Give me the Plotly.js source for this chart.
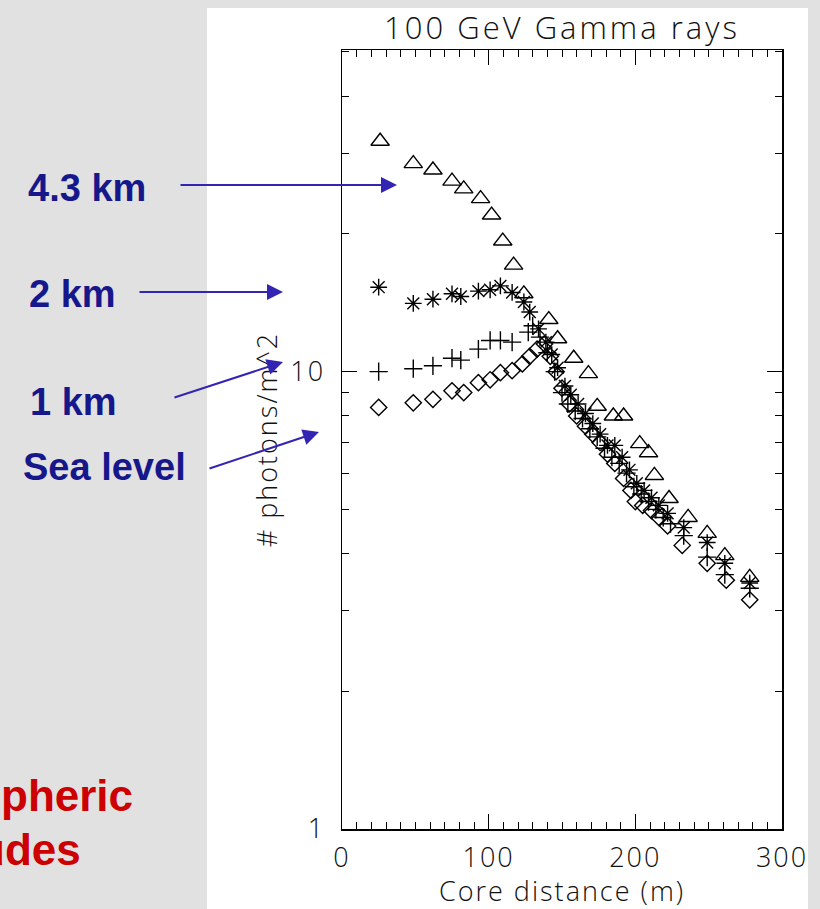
<!DOCTYPE html>
<html>
<head>
<meta charset="utf-8">
<script src="https://cdn.plot.ly/plotly-3.0.1.min.js"></script>
<style>
  html, body { margin: 0; padding: 0; background: #e1e1e1; }
  #chart { width: 820px; height: 909px; }
  .xtitle, .ytitle, .xtick text, .ytick text { letter-spacing: 2px; }
  .gtitle { letter-spacing: 3px; }
</style>
</head>
<body>
<div id="chart"></div>
<script>
// ---- data (core distance in m, photons per m^2) ----
const seriesNames = ["4.3 km", "2 km", "1 km", "Sea level"];

const triDist = [26, 48.6, 62, 75, 83, 94.5, 102, 109.6, 117, 124, 141, 147, 158, 168, 174, 185, 192, 203, 209, 213, 223, 236, 249, 261, 278];
const triVal  = [31.9, 28.5, 27.6, 26.1, 25.1, 23.9, 22.0, 19.3, 17.1, 14.8, 13.0, 11.8, 10.7, 9.9, 8.4, 8.0, 8.0, 6.96, 6.65, 5.93, 5.28, 4.8, 4.43, 3.96, 3.55];

const astDist = [25, 48.6, 62, 75, 81, 93, 101, 108, 116, 124, 128, 134, 139, 143, 147, 152, 156, 161, 166, 171, 176, 181, 186, 191, 196, 201, 206, 211, 216, 222, 233, 249, 261, 278];
const astVal  = [15.3, 14.1, 14.4, 14.8, 14.6, 15.0, 15.1, 15.4, 14.9, 14.2, 13.5, 12.4, 11.6, 10.9, 10.2, 9.3, 8.9, 8.5, 8.1, 7.7, 7.3, 6.9, 6.9, 6.5, 6.1, 5.7, 5.5, 5.3, 5.1, 4.9, 4.56, 4.23, 3.81, 3.45];

const plusDist = [25, 48.6, 62, 75, 81, 93, 101, 108, 116, 127, 130, 135, 140, 145, 150, 154, 159, 164, 169, 174, 179, 184, 189, 194, 199, 204, 209, 214, 219, 224, 233, 249, 261, 278];
const plusVal  = [10.0, 10.15, 10.3, 10.7, 10.6, 11.2, 11.7, 11.7, 11.6, 12.2, 12.6, 11.9, 11.0, 10.0, 9.0, 8.5, 8.2, 7.9, 7.5, 7.2, 6.8, 6.5, 6.3, 6.0, 5.6, 5.4, 5.2, 5.0, 4.8, 4.65, 4.38, 3.93, 3.6, 3.36];

const diaDist = [25, 48.6, 62, 75, 83, 93, 101, 108, 116, 123, 128, 133, 138, 142, 146, 150, 155, 160, 166, 171, 176, 181, 186, 192, 197, 200, 205, 211, 216, 222, 232, 249, 262, 278];
const diaVal  = [8.35, 8.55, 8.7, 9.08, 9.0, 9.46, 9.6, 9.95, 10.05, 10.4, 10.8, 11.2, 11.5, 10.8, 10.0, 9.2, 8.5, 8.0, 7.6, 7.3, 7.0, 6.6, 6.3, 5.84, 5.5, 5.2, 5.1, 4.97, 4.8, 4.6, 4.17, 3.81, 3.5, 3.17];

const xTickVals = [0, 100, 200, 300];
const yTickVals = [1, 10];
const yTickText = ["1", "10"];
const yMinorVals = [2, 3, 4, 5, 6, 7, 8, 9, 20, 30, 40, 50];

// ---- layout helpers (pixel -> paper coordinates of the plot area) ----
const L = 342, R = 782, T = 50, B = 829;
const px = x => (x - L) / (R - L);
const py = y => (B - y) / (B - T);

function mk(x, y, name, symbol, size) {
  return {
    type: "scatter", mode: "markers", x: x, y: y, name: name,
    marker: { symbol: symbol, size: size, color: "#000",
              line: { color: "#000", width: 1.4 } },
    hoverinfo: "x+y+name"
  };
}

const traces = [
  mk(triDist, triVal, seriesNames[0], "triangle-up-open", 16),
  mk(astDist, astVal, seriesNames[1], "asterisk-open", 14),
  mk(plusDist, plusVal, seriesNames[2], "cross-thin-open", 13),
  mk(diaDist, diaVal, seriesNames[3], "diamond-open", 12.5)
];

const tickFont = { family: "Open Sans", size: 27, color: "#111", weight: 300 };
const navy = "#17178c";
const arrowCol = "#3424b4";
const labelFont = { family: "Liberation Sans, Arial", size: 38, color: navy, weight: "bold" };
const redFont = { family: "Liberation Sans, Arial", size: 44, color: "#cc0000", weight: "bold" };

function label(text, xLeft, yMid) {
  return { text: text, xref: "paper", yref: "paper", x: px(xLeft), y: py(yMid),
           xanchor: "left", yanchor: "middle", showarrow: false, font: labelFont };
}
function redLabel(text, xRight, yMid) {
  return { text: text, xref: "paper", yref: "paper", x: px(xRight), y: py(yMid),
           xanchor: "right", yanchor: "middle", showarrow: false, font: redFont };
}
function arrow(hx, hy, tx, ty) {
  return { text: "", xref: "paper", yref: "paper", x: px(hx), y: py(hy),
           ax: tx - hx, ay: ty - hy, showarrow: true, arrowhead: 2, arrowsize: 1.6,
           arrowwidth: 2, arrowcolor: arrowCol, standoff: 0, startstandoff: 0 };
}

const layout = {
  width: 820, height: 909, autosize: false,
  margin: { l: L, r: 820 - R, t: T, b: 909 - B, pad: 0 },
  paper_bgcolor: "#e1e1e1",
  plot_bgcolor: "#ffffff",
  showlegend: false,
  title: { text: "100 GeV Gamma rays", xref: "paper", x: 0.5, xanchor: "center",
           yref: "container", y: 1 - 28 / 909, yanchor: "middle",
           font: { family: "Open Sans", size: 31, color: "#111", weight: 300 } },
  xaxis: {
    range: [0, 300], tickmode: "array", tickvals: xTickVals,
    ticks: "inside", ticklen: 15, tickwidth: 1, tickcolor: "#000",
    showline: true, linecolor: "#000", linewidth: 1.5, mirror: "ticks",
    showgrid: false, zeroline: false, ticklabelstandoff: 4,
    minor: { ticks: "inside", ticklen: 7, tickwidth: 1, tickcolor: "#000", dtick: 10, tick0: 0, showgrid: false },
    tickfont: tickFont,
    title: { text: "Core distance (m)", standoff: 0, font: tickFont }
  },
  yaxis: {
    type: "log", range: [0, Math.log10(50.5)], tickmode: "array",
    tickvals: yTickVals, ticktext: yTickText,
    ticks: "inside", ticklen: 15, tickwidth: 1, tickcolor: "#000",
    showline: true, linecolor: "#000", linewidth: 1.5, mirror: "ticks",
    showgrid: false, zeroline: false, ticklabelstandoff: 10,
    minor: { ticks: "inside", ticklen: 7, tickwidth: 1, tickcolor: "#000", tickmode: "array", tickvals: yMinorVals, showgrid: false },
    tickfont: tickFont,
    title: { text: "# photons/m^2", standoff: 5, font: tickFont }
  },
  shapes: [
    { type: "rect", xref: "paper", yref: "paper", layer: "below",
      x0: px(207), x1: px(808), y0: py(915), y1: py(8),
      fillcolor: "#ffffff", line: { width: 0 } }
  ],
  annotations: [
    label(seriesNames[0], 26, 188),
    label(seriesNames[1], 27, 294),
    label(seriesNames[2], 28, 402),
    label(seriesNames[3], 21, 467),
    arrow(397, 185, 179, 185),
    arrow(283, 292, 138, 292),
    arrow(283, 362, 173, 398),
    arrow(319, 432, 208, 469),
    redLabel("pheric", 135, 795),
    redLabel("udes", 83, 849)
  ]
};

Plotly.newPlot("chart", traces, layout, { displayModeBar: false, staticPlot: true });
</script>
</body>
</html>
